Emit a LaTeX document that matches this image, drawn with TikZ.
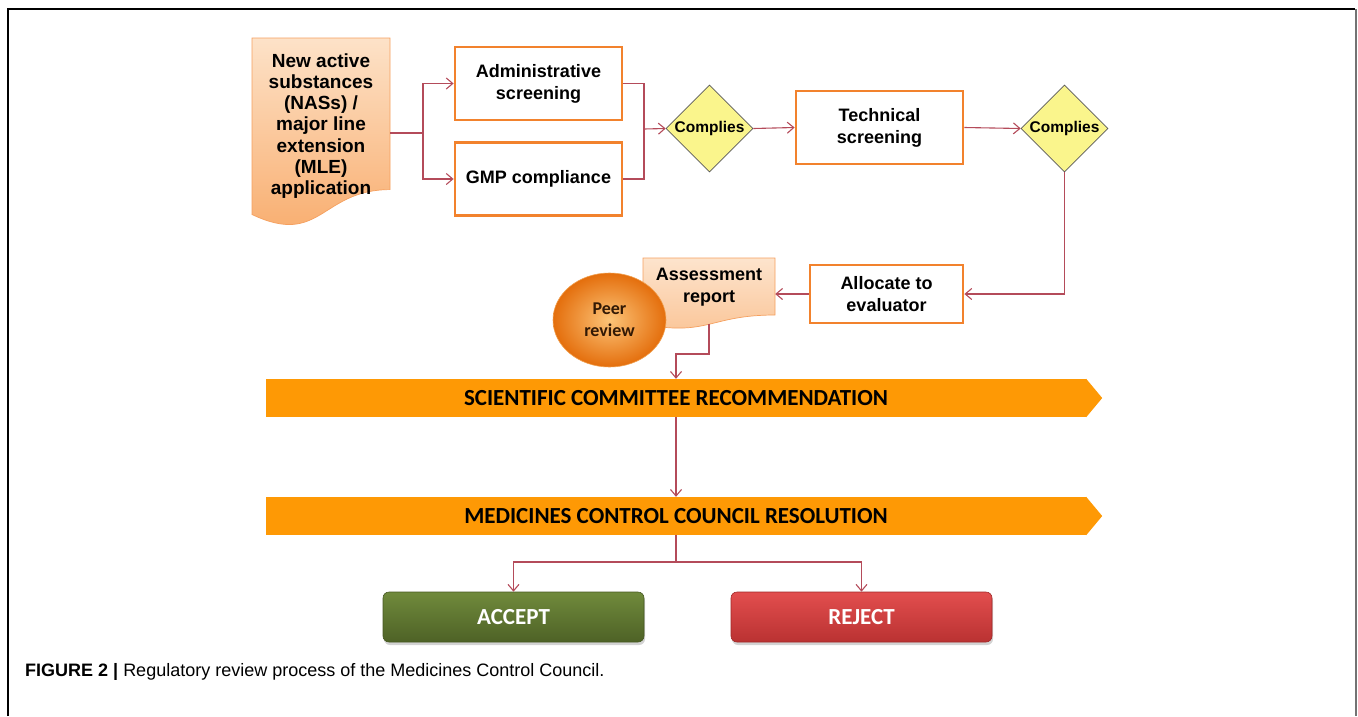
\documentclass[tikz,border=0pt]{standalone}
\usepackage{fontspec}
\setmainfont{Liberation Sans}
\newfontfamily\calib{Carlito}
\usetikzlibrary{arrows.meta,shapes.geometric,shadows,calc}
\definecolor{conncol}{RGB}{180,75,90}
\definecolor{obord}{RGB}{242,130,45}
\definecolor{dbord}{RGB}{245,160,95}
\definecolor{dfill}{RGB}{250,245,140}
\definecolor{bannerfill}{RGB}{254,153,5}
\begin{document}
\begin{tikzpicture}[x=1pt,y=-1pt,
  box/.style={draw=obord, line width=2.8pt, fill=white, minimum width=167, minimum height=73, align=center, inner sep=0pt, font=\bfseries\fontsize{18}{22}\selectfont},
  dia/.style={diamond, draw=black!65, line width=0.6pt, fill=dfill, minimum width=87, minimum height=87, inner sep=0pt, font=\bfseries\fontsize{15.5}{18}\selectfont},
  banner/.style={fill=bannerfill, minimum width=820, minimum height=38, inner sep=0pt, font=\calib\bfseries\fontsize{23}{26}\selectfont, text=black},
  button/.style={rounded corners=6pt, minimum width=261, minimum height=50, inner sep=0pt, font=\calib\bfseries\fontsize{23}{26}\selectfont, text=white, drop shadow={shadow xshift=1pt, shadow yshift=-3pt, opacity=0.35}},
  doctext/.style={align=center, inner sep=0pt, font=\bfseries\fontsize{18}{22}\selectfont},
  line/.style={draw=conncol, line width=1.1pt},
  conn/.style={line, -{Straight Barb[length=6.5pt,width=11pt]}}
]
\useasboundingbox (0,0) rectangle (1358,716);
% frame
\draw[line width=1.3pt] (8,716) -- (8,9) -- (1355,9);
\draw[line width=2pt, black!55] (1355.5,9) -- (1355.5,716);

% NAS document shape
\shade[top color={rgb,255:red,253;green,226;blue,200}, bottom color={rgb,255:red,248;green,170;blue,105}, draw=dbord, line width=0.7pt]
  (252,38) -- (390,38) -- (390,189.6) .. controls (321,189.6) and (321,247.2) .. (252,214.5) -- cycle;
\node[doctext, minimum width=138, font=\bfseries\fontsize{19}{21.2}\selectfont] (nas) at (321,126)
  {New active\\substances\\(NASs) /\\major line\\extension\\(MLE)\\application};

% boxes
\node[box] (adm) at (538.5,83.5) {Administrative\\screening};
\node[box] (gmp) at (538.5,179) {GMP compliance};
\node[dia] (d1) at (709.5,128.5) {Complies};
\node[box] (tech) at (879.5,127.5) {Technical\\screening};
\node[dia] (d2) at (1064.5,128.5) {Complies};
\node[box, minimum width=153, minimum height=58] (alloc) at (886.5,294) {Allocate to\\evaluator};

% assessment report document shape
\shade[top color={rgb,255:red,253;green,228;blue,205}, bottom color={rgb,255:red,250;green,196;blue,150}, draw=dbord, line width=0.7pt]
  (643,258) -- (775,258) -- (775,315) .. controls (709,315) and (709,336.6) .. coordinate[pos=0.5] (w) (643,324.3) -- cycle;
\node[doctext, minimum width=132] (rep) at (709,287) {Assessment\\report};

% peer review
\node[ellipse, minimum width=113, minimum height=94, inner sep=0pt, shading=radial,
  inner color={rgb,255:red,252;green,196;blue,120}, outer color={rgb,255:red,228;green,110;blue,12},
  draw={rgb,255:red,240;green,160;blue,80}, line width=0.6pt,
  font=\calib\bfseries\fontsize{18}{22}\selectfont, text={rgb,255:red,50;green,25;blue,5}, align=center] (peer) at (609.5,320) {Peer\\review};

% banners
\node[banner] (scr) at (676,398) {SCIENTIFIC COMMITTEE RECOMMENDATION};
\fill[bannerfill] (scr.north east) -- ($(scr.east)+(16,0)$) -- (scr.south east) -- cycle;
\node[banner] (mcc) at (676,516) {MEDICINES CONTROL COUNCIL RESOLUTION};
\fill[bannerfill] (mcc.north east) -- ($(mcc.east)+(16,0)$) -- (mcc.south east) -- cycle;

% buttons
\node[button, top color={rgb,255:red,112;green,138;blue,60}, bottom color={rgb,255:red,78;green,98;blue,38}, draw={rgb,255:red,70;green,88;blue,34}, line width=0.6pt] (acc) at (513.5,617) {ACCEPT};
\node[button, top color={rgb,255:red,226;green,78;blue,78}, bottom color={rgb,255:red,186;green,50;blue,50}, draw={rgb,255:red,160;green,40;blue,40}, line width=0.6pt] (rej) at (861.5,617) {REJECT};

% junction coordinates
\coordinate (j1) at (423,133);
\coordinate (j2) at (644,129);
\coordinate (j3) at (676,354);
\coordinate (j4) at (676,562);

% connectors
\draw[line] (nas.east |- j1) -- (j1);
\draw[conn] (j1) |- (adm.west);
\draw[conn] (j1) |- (gmp.west);
\draw[line] (adm.east) -| (j2);
\draw[line] (gmp.east) -| (j2);
\draw[conn] (j2) -- (d1.west);
\draw[conn] (d1.east) -- (tech.west);
\draw[conn] (tech.east) -- (d2.west);
\draw[conn] (d2.south) |- (alloc.east);
\draw[conn] (alloc.west) -- (alloc.west -| rep.east);
\draw[conn] (w) |- (j3) -- (scr.north);
\draw[conn] (scr.south) -- (mcc.north);
\draw[line] (mcc.south) -- (j4);
\draw[conn] (j4) -| (acc.north);
\draw[conn] (j4) -| (rej.north);

% caption
\node[anchor=west, inner sep=0pt, font=\fontsize{18}{21}\selectfont] (cap) at (25,672)
  {\textbf{FIGURE 2 |} Regulatory review process of the Medicines Control Council.};
\end{tikzpicture}
\end{document}
